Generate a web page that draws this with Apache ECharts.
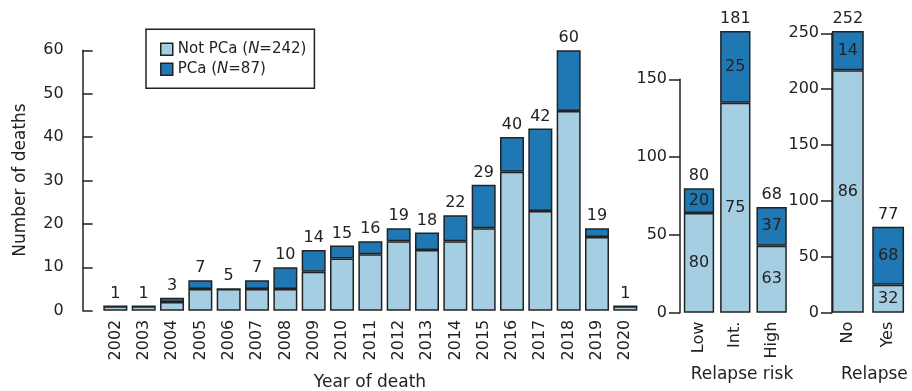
<!DOCTYPE html>
<html>
<head>
<meta charset="utf-8">
<script src="https://cdn.jsdelivr.net/npm/echarts@6/dist/echarts.min.js"></script>
<style>
  html, body { margin: 0; padding: 0; background: #fff; }
  #chart { width: 912px; height: 391px; }
</style>
</head>
<body>
<div id="chart"></div>
<script>
// Deaths per year, split by cause
const years = ['2002','2003','2004','2005','2006','2007','2008','2009','2010','2011',
               '2012','2013','2014','2015','2016','2017','2018','2019','2020'];
const notPcaByYear = [1, 1, 2, 5, 5, 5, 5, 9, 12, 13, 16, 14, 16, 19, 32, 23, 46, 17, 1];
const pcaByYear    = [0, 0, 1, 2, 0, 2, 5, 5, 3, 3, 3, 4, 6, 10, 8, 19, 14, 2, 0];

// Deaths by relapse-risk group
const riskGroups = ['Low', 'Int.', 'High'];
const notPcaByRisk = [64, 135, 43];
const pcaByRisk    = [16, 46, 25];

// Deaths by relapse status
const relapseGroups = ['No', 'Yes'];
const notPcaByRelapse = [217, 25];
const pcaByRelapse    = [35, 52];

// Axis ranges [min, max, step]
const yearAxisRange    = [0, 60, 10];
const riskAxisRange    = [0, 150, 50];
const relapseAxisRange = [0, 250, 50];

const LIGHT = '#a6cee3';
const DARK = '#1f78b4';
const INK = '#222';
const FONT = 'DejaVu Sans';

const sum = (a, b) => a.map((v, i) => v + b[i]);
const totalsYear = sum(notPcaByYear, pcaByYear);
const totalsRisk = sum(notPcaByRisk, pcaByRisk);
const totalsRelapse = sum(notPcaByRelapse, pcaByRelapse);
const nNotPca = notPcaByYear.reduce((a, b) => a + b, 0);
const nPca = pcaByYear.reduce((a, b) => a + b, 0);

const barStyle = (c) => ({ color: c, borderColor: INK, borderWidth: 1.5 });
const lineStyle = { color: INK, width: 1.5 };

function yAxis(grid, range, opts) {
  return Object.assign({
    type: 'value', gridIndex: grid,
    min: range[0], max: range[1], interval: range[2],
    axisLine: { show: true, lineStyle },
    axisTick: { show: true, lineStyle, length: 11 },
    axisLabel: { color: INK, fontFamily: FONT, fontSize: 16, margin: 13 },
    splitLine: { show: false }
  }, opts);
}

function xAxis(grid, data) {
  return {
    type: 'category', gridIndex: grid, data,
    axisLine: { show: false }, axisTick: { show: false },
    axisLabel: { rotate: 90, margin: 9, color: INK, fontFamily: FONT, fontSize: 16, interval: 0 }
  };
}

const totalLabel = (totals) => ({
  show: true, position: 'top', distance: 4,
  color: INK, fontFamily: FONT, fontSize: 16,
  formatter: (p) => String(totals[p.dataIndex])
});

const pctLabel = (totals) => ({
  show: true, position: 'inside',
  color: INK, fontFamily: FONT, fontSize: 16,
  formatter: (p) => String(Math.round(100 * p.value / totals[p.dataIndex]))
});

function stackPair(grid, notPca, pca, totals, gap, withPct) {
  const common = { type: 'bar', xAxisIndex: grid, yAxisIndex: grid, stack: 's' + grid,
                   barCategoryGap: gap, clip: false };
  return [
    Object.assign({}, common, {
      name: 'Not PCa', data: notPca, itemStyle: barStyle(LIGHT),
      label: withPct ? pctLabel(totals) : { show: false }
    }),
    Object.assign({}, common, {
      name: 'PCa', data: pca, itemStyle: barStyle(DARK),
      label: withPct ? pctLabel(totals) : totalLabel(totals)
    })
  ];
}

// Totals printed above the stacked bars of the two right panels
function totalsOverlay(grid, totals, gap) {
  return {
    type: 'bar', xAxisIndex: grid, yAxisIndex: grid, stack: 't' + grid,
    barGap: '-100%', barCategoryGap: gap, clip: false, silent: true,
    data: totals, itemStyle: { color: 'rgba(0,0,0,0)' }, z: 1,
    label: totalLabel(totals)
  };
}

const chart = echarts.init(document.getElementById('chart'), null, { renderer: 'canvas' });

const option = {
  animation: false,
  backgroundColor: '#fff',
  textStyle: { fontFamily: FONT },
  grid: [
    { left: 101.2, top: 50.3, width: 538.3, height: 260.4 },
    { left: 680.8, top: 79.3, width: 109, height: 233.4 },
    { left: 827.7, top: 33.3, width: 80.6, height: 279.4 }
  ],
  xAxis: [xAxis(0, years), xAxis(1, riskGroups), xAxis(2, relapseGroups)],
  yAxis: [
    yAxis(0, yearAxisRange, {
      offset: 18.5,
      axisTick: { show: true, inside: true, length: 10, lineStyle },
      axisLabel: { color: INK, fontFamily: FONT, fontSize: 16, margin: 19 }
    }),
    yAxis(1, riskAxisRange, { offset: 0.8 }),
    yAxis(2, relapseAxisRange, { offset: -4.3 })
  ],
  legend: {
    data: ['Not PCa', 'PCa'],
    orient: 'vertical',
    left: 146, top: 29.3,
    padding: [10, 8, 9, 14],
    itemGap: 0,
    itemWidth: 12, itemHeight: 12,
    icon: 'rect',
    borderColor: INK, borderWidth: 1.5,
    itemStyle: { borderColor: INK, borderWidth: 1.5 },
    textStyle: {
      color: INK, fontFamily: FONT, fontSize: 15, lineHeight: 20,
      rich: { i: { fontStyle: 'italic', fontFamily: FONT, fontSize: 15, color: INK } }
    },
    formatter: (name) => name === 'PCa'
      ? 'PCa ({i|N}=' + nPca + ')'
      : 'Not PCa ({i|N}=' + nNotPca + ')'
  },
  series: [
    ...stackPair(0, notPcaByYear, pcaByYear, totalsYear, '15.3%', false),
    totalsOverlay(1, totalsRisk, '16.5%'),
    ...stackPair(1, notPcaByRisk, pcaByRisk, totalsRisk, '16.5%', true),
    totalsOverlay(2, totalsRelapse, '21%'),
    ...stackPair(2, notPcaByRelapse, pcaByRelapse, totalsRelapse, '21%', true)
  ],
  graphic: [
    { type: 'text', x: 21, y: 180, rotation: Math.PI / 2,
      style: { text: 'Number of deaths', fill: INK, font: '17px "DejaVu Sans"',
               textAlign: 'center', textVerticalAlign: 'middle' } },
    { type: 'text', x: 370, y: 383,
      style: { text: 'Year of death', fill: INK, font: '17px "DejaVu Sans"',
               textAlign: 'center', textVerticalAlign: 'middle' } },
    { type: 'text', x: 742, y: 375,
      style: { text: 'Relapse risk', fill: INK, font: '17px "DejaVu Sans"',
               textAlign: 'center', textVerticalAlign: 'middle' } },
    { type: 'text', x: 841, y: 375,
      style: { text: 'Relapse', fill: INK, font: '17px "DejaVu Sans"',
               textAlign: 'left', textVerticalAlign: 'middle' } }
  ]
};

chart.setOption(option);
</script>
</body>
</html>
